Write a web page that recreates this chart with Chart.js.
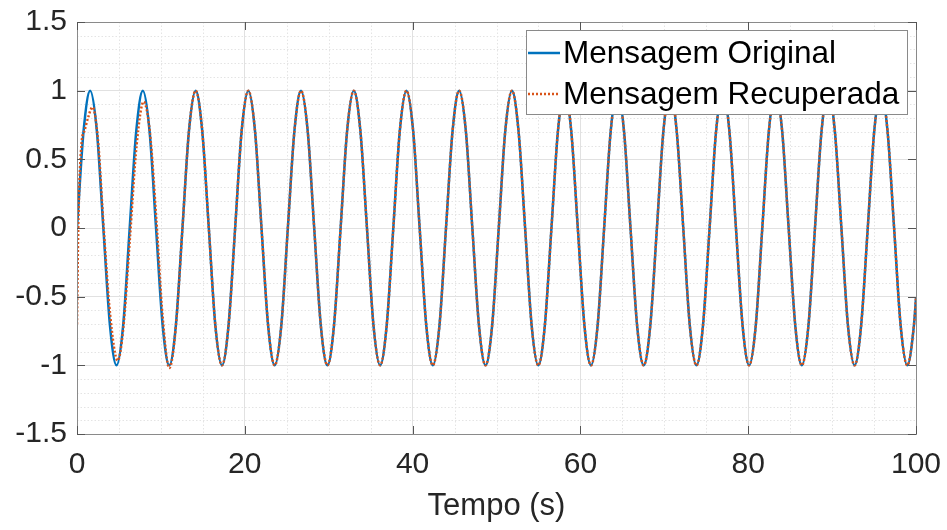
<!DOCTYPE html>
<html>
<head>
<meta charset="utf-8">
<script src="https://cdn.jsdelivr.net/npm/chart.js@4.4.1/dist/chart.umd.min.js"></script>
<style>
  html, body { margin: 0; padding: 0; background: #fff; }
  #grafico-box { width: 947px; height: 530px; }
</style>
</head>
<body>
<div id="grafico-box"><canvas id="grafico"></canvas></div>
<script>
// tempo (s), amostrado a cada ~pi/4
const tempo = [
  0, 0.79, 1.57, 2.36, 3.14, 3.93, 4.71, 5.50,
  6.28, 7.07, 7.85, 8.64, 9.42, 10.21, 11.00, 11.78,
  12.57, 13.35, 14.14, 14.92, 15.71, 16.49, 17.28, 18.06,
  18.85, 19.63, 20.42, 21.21, 21.99, 22.78, 23.56, 24.35,
  25.13, 25.92, 26.70, 27.49, 28.27, 29.06, 29.85, 30.63,
  31.42, 32.20, 32.99, 33.77, 34.56, 35.34, 36.13, 36.91,
  37.70, 38.48, 39.27, 40.06, 40.84, 41.63, 42.41, 43.20,
  43.98, 44.77, 45.55, 46.34, 47.12, 47.91, 48.69, 49.48,
  50.27, 51.05, 51.84, 52.62, 53.41, 54.19, 54.98, 55.76,
  56.55, 57.33, 58.12, 58.90, 59.69, 60.48, 61.26, 62.05,
  62.83, 63.62, 64.40, 65.19, 65.97, 66.76, 67.54, 68.33,
  69.12, 69.90, 70.69, 71.47, 72.26, 73.04, 73.83, 74.61,
  75.40, 76.18, 76.97, 77.75, 78.54, 79.33, 80.11, 80.90,
  81.68, 82.47, 83.25, 84.04, 84.82, 85.61, 86.39, 87.18,
  87.96, 88.75, 89.54, 90.32, 91.11, 91.89, 92.68, 93.46,
  94.25, 95.03, 95.82, 96.60, 97.39, 98.17, 98.96, 99.75,
  100
];
const original = [
  0, 0.71, 1, 0.71, 0, -0.71, -1, -0.71,
  0, 0.71, 1, 0.71, 0, -0.71, -1, -0.71,
  0, 0.71, 1, 0.71, 0, -0.71, -1, -0.71,
  0, 0.71, 1, 0.71, 0, -0.71, -1, -0.71,
  0, 0.71, 1, 0.71, 0, -0.71, -1, -0.71,
  0, 0.71, 1, 0.71, 0, -0.71, -1, -0.71,
  0, 0.71, 1, 0.71, 0, -0.71, -1, -0.71,
  0, 0.71, 1, 0.71, 0, -0.71, -1, -0.71,
  0, 0.71, 1, 0.71, 0, -0.71, -1, -0.71,
  0, 0.71, 1, 0.71, 0, -0.71, -1, -0.71,
  0, 0.71, 1, 0.71, 0, -0.71, -1, -0.71,
  0, 0.71, 1, 0.71, 0, -0.71, -1, -0.71,
  0, 0.71, 1, 0.71, 0, -0.71, -1, -0.71,
  0, 0.71, 1, 0.71, 0, -0.71, -1, -0.71,
  0, 0.71, 1, 0.71, 0, -0.71, -1, -0.71,
  0, 0.71, 1, 0.71, 0, -0.71, -1, -0.71,
  -0.51
];
// inicio da mensagem recuperada (transitorio), depois segue a original
const tempoRecInicio = [0, 0.15, 0.55, 0.9, 1.3, 1.85, 2.5, 3.2, 3.95, 4.85, 5.5, 6.3, 7.1, 7.95, 8.7, 9.45, 10.2, 11.0, 11.78];
const recInicio = [-0.70, 0.0, 0.62, 0.71, 0.80, 0.88, 0.64, -0.02, -0.63, -0.965, -0.74, -0.08, 0.60, 0.92, 0.69, 0.07, -0.64, -1.02, -0.72];
const tempoRec = tempoRecInicio.concat(tempo.slice(16));
const recuperada = recInicio.concat(original.slice(16));

const rotulos = ['Mensagem Original', 'Mensagem Recuperada'];
const cores = ['#0072BD', '#D95319'];
const fonte = '"Liberation Sans", Arial, Helvetica, sans-serif';

const grade = {
  id: 'grade',
  beforeDatasetsDraw(chart) {
    const { ctx, chartArea: { left, right, top, bottom }, scales: { x, y } } = chart;
    ctx.save();
    ctx.strokeStyle = '#e4e4e4';
    ctx.lineWidth = 1;
    ctx.setLineDash([1.5, 2]);
    for (let v = 5; v < 100; v += 5) {
      if (v % 20 === 0) continue;
      const px = Math.round(x.getPixelForValue(v)) + 0.5;
      ctx.beginPath(); ctx.moveTo(px, top); ctx.lineTo(px, bottom); ctx.stroke();
    }
    for (let k = -14; k <= 14; k++) {
      if (k % 5 === 0) continue;
      const py = Math.round(y.getPixelForValue(k / 10)) + 0.5;
      ctx.beginPath(); ctx.moveTo(left, py); ctx.lineTo(right, py); ctx.stroke();
    }
    ctx.restore();
  },
  afterDraw(chart) {
    const { ctx, chartArea: { left, right, top, bottom }, scales: { x, y } } = chart;
    ctx.save();
    // caixa dos eixos
    ctx.strokeStyle = '#8a8a8a';
    ctx.lineWidth = 1;
    ctx.strokeRect(Math.round(left) + 0.5, Math.round(top) + 0.5, Math.round(right - left), Math.round(bottom - top));
    // marcas internas
    ctx.strokeStyle = '#555';
    x.ticks.forEach(t => {
      const px = Math.round(x.getPixelForValue(t.value)) + 0.5;
      ctx.beginPath();
      ctx.moveTo(px, bottom); ctx.lineTo(px, bottom - 8);
      ctx.moveTo(px, top); ctx.lineTo(px, top + 8);
      ctx.stroke();
    });
    y.ticks.forEach(t => {
      const py = Math.round(y.getPixelForValue(t.value)) + 0.5;
      ctx.beginPath();
      ctx.moveTo(left, py); ctx.lineTo(left + 8, py);
      ctx.moveTo(right, py); ctx.lineTo(right - 8, py);
      ctx.stroke();
    });
    // legenda
    const w = 381, h = 84;
    const lx = Math.round(right) - 9 - w, ly = Math.round(top) + 8;
    ctx.fillStyle = '#fff';
    ctx.fillRect(lx, ly, w, h);
    ctx.strokeStyle = '#8a8a8a';
    ctx.strokeRect(lx + 0.5, ly + 0.5, w, h);
    ctx.font = '31.5px ' + fonte;
    ctx.textBaseline = 'middle';
    chart.data.datasets.forEach((ds, i) => {
      const cy = ly + 23 + i * 41;
      ctx.strokeStyle = ds.borderColor;
      ctx.lineWidth = 2.5;
      ctx.setLineDash(ds.borderDash || []);
      ctx.beginPath(); ctx.moveTo(lx + 2, cy); ctx.lineTo(lx + 34, cy); ctx.stroke();
      ctx.setLineDash([]);
      ctx.fillStyle = '#000';
      ctx.fillText(ds.label, lx + 37, cy + 1);
    });
    ctx.restore();
  },
};

const config = {
  type: 'line',
  data: {
    datasets: [
      {
        label: rotulos[0],
        data: tempo.map((t, i) => ({ x: t, y: original[i] })),
        borderColor: cores[0],
        borderWidth: 2.5,
        pointRadius: 0,
        cubicInterpolationMode: 'monotone',
        order: 1,
      },
      {
        label: rotulos[1],
        data: tempoRec.map((t, i) => ({ x: t, y: recuperada[i] })),
        borderColor: cores[1],
        borderWidth: 2.5,
        borderDash: [2, 2],
        pointRadius: 0,
        cubicInterpolationMode: 'monotone',
        order: 0,
      },
    ],
  },
  options: {
    responsive: true,
    maintainAspectRatio: false,
    animation: false,
    layout: { padding: { left: 0, right: 31, top: 22, bottom: 5 } },
    scales: {
      x: {
        type: 'linear',
        min: 0,
        max: 100,
        ticks: { stepSize: 20, color: '#262626', font: { family: fonte, size: 30 }, padding: 13, maxRotation: 0 },
        grid: { color: '#e1e1e1', drawTicks: false },
        border: { display: false },
        title: { display: true, text: 'Tempo (s)', color: '#262626', font: { family: fonte, size: 31 }, padding: { top: 0, bottom: 0 } },
        afterFit: (scale) => {
          scale.height = 91;
          scale.paddingLeft = 0;
          scale.paddingRight = 0;
        },
      },
      y: {
        min: -1.5,
        max: 1.5,
        ticks: { stepSize: 0.5, color: '#262626', font: { family: fonte, size: 30 }, padding: 10, callback: (v) => String(v) },
        grid: { color: '#e1e1e1', drawTicks: false },
        border: { display: false },
        afterFit: (scale) => {
          scale.width = 77;
          scale.paddingTop = 0;
          scale.paddingBottom = 0;
        },
      },
    },
    plugins: {
      legend: { display: false },
      tooltip: { enabled: false },
    },
  },
  plugins: [grade],
};

new Chart(document.getElementById('grafico'), config);
</script>
</body>
</html>
